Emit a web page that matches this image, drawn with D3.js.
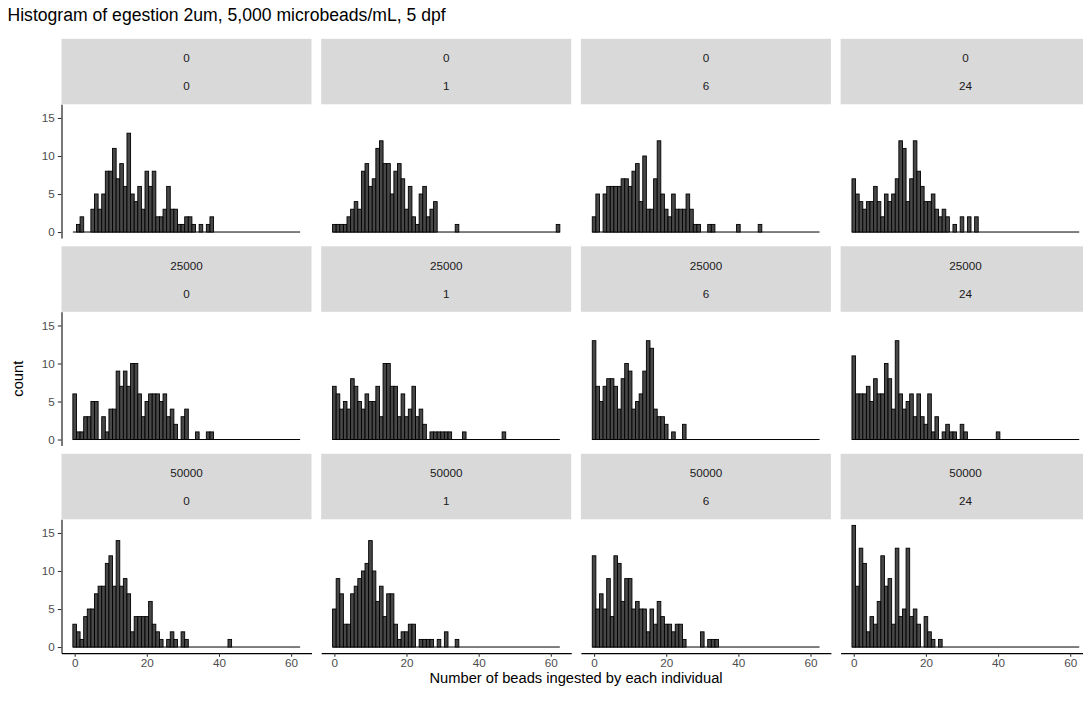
<!DOCTYPE html>
<html>
<head>
<meta charset="utf-8">
<script src="https://cdn.jsdelivr.net/npm/d3@7/dist/d3.min.js"></script>
<style>
  body { margin: 0; background: #fff; }
  text { font-family: "Liberation Sans", Arial, sans-serif; }
</style>
</head>
<body>
<svg id="chart" width="1083" height="708"></svg>
<script>
// facet levels
let concLevels = ["0", "25000", "50000"]
let hourLevels = ["0", "1", "6", "24"]

// counts per 1-bead bin, index = number of beads (missing bins are 0)
let c0h0 = [0,1,2,0,0,3,5,3,5,8,8,11,7,9,6,13,5,4,6,3,8,6,8,2,2,3,6,3,3,1,1,2,2,1,0,1,0,1,2]
let c0h1 = [1,1,1,1,2,3,4,3,8,9,6,7,11,12,9,9,5,8,9,7,3,6,2,1,5,6,2,3,4,0,0,0,0,0,1,0,0,0,0,0,
            0,0,0,0,0,0,0,0,0,0,0,0,0,0,0,0,0,0,0,0,0,0,1]
let c0h6 = [2,5,0,5,6,6,6,6,7,7,6,8,9,4,10,3,3,7,12,5,3,2,5,3,3,3,5,3,1,1,0,0,1,1,0,0,0,0,0,0,
            1,0,0,0,0,0,1]
let c0h24 = [7,5,4,3,4,4,6,4,2,5,4,5,7,12,11,4,7,12,8,6,4,4,5,3,2,3,2,0,1,0,2,0,2,0,2]
let c25h0 = [6,1,1,3,3,5,5,0,3,1,4,4,9,7,9,7,10,10,6,3,5,6,6,6,5,6,3,4,2,0,3,4,0,0,1,0,0,1,1]
let c25h1 = [7,6,4,5,4,8,7,5,4,6,5,5,7,3,10,10,7,7,3,6,3,4,7,3,4,2,0,1,1,1,1,1,1,0,0,0,1,0,0,0,
             0,0,0,0,0,0,0,1]
let c25h6 = [13,7,5,7,8,8,7,4,8,10,9,4,5,6,9,13,12,4,3,3,2,0,1,0,0,2]
let c25h24 = [11,6,6,6,7,5,8,6,6,10,8,4,13,6,4,5,6,3,6,3,2,6,1,3,0,1,2,1,1,0,2,1,0,0,0,0,0,0,0,0,1]
let c50h0 = [3,2,1,4,5,5,7,8,8,11,12,8,14,8,9,7,2,4,4,4,4,6,3,2,1,0,1,2,1,0,2,1,0,0,0,0,0,0,0,0,
             0,0,0,1]
let c50h1 = [5,9,7,3,3,7,8,9,10,11,14,10,6,8,4,7,7,3,1,2,2,3,3,0,1,1,1,1,0,1,0,2,0,0,1]
let c50h6 = [12,5,7,5,9,4,12,11,6,9,9,5,6,5,5,2,5,3,6,4,3,3,2,3,3,1,0,0,0,0,2,0,1,1,1]
let c50h24 = [16,8,13,11,2,4,3,6,12,8,9,3,13,4,5,13,4,5,3,0,4,2,1,0,1]

let counts = [
  [c0h0, c0h1, c0h6, c0h24],
  [c25h0, c25h1, c25h6, c25h24],
  [c50h0, c50h1, c50h6, c50h24]
]
let nBins = 63
let xTicks = [0, 20, 40, 60]
let yTicks = [0, 5, 10, 15]

let svg = d3.select("#chart")

// layout
let left = 61.5
let panelW = 250
let stepX = 259.7
let panelTop = 104.3
let panelH = 133.8
let stripH = 65.5
let stepY = 207.5

let x = d3.scaleLinear().domain([-3.65, 65.65]).range([0, panelW])
let y = d3.scaleLinear().domain([-0.8, 16.8]).range([panelH, 0])

svg.append("rect").attr("width", 1083).attr("height", 708).attr("fill", "#fff")

// title
svg.append("text")
  .attr("x", 7.5).attr("y", 21)
  .style("font-size", "17.6px").attr("fill", "#000")
  .text("Histogram of egestion 2um, 5,000 microbeads/mL, 5 dpf")

counts.forEach(function (rowData, r) {
  rowData.forEach(function (data, c) {
    let px = left + c * stepX
    let py = panelTop + r * stepY

    // strip
    let strip = svg.append("g").attr("transform", "translate(" + px + "," + (py - stripH) + ")")
    strip.append("rect")
      .attr("width", panelW).attr("height", stripH)
      .attr("fill", "#d9d9d9")
    strip.append("text")
      .attr("x", panelW / 2).attr("y", 19.3 + 4)
      .attr("text-anchor", "middle")
      .style("font-size", "11.7px").attr("fill", "#1a1a1a")
      .text(concLevels[r])
    strip.append("text")
      .attr("x", panelW / 2).attr("y", 47.7 + 4)
      .attr("text-anchor", "middle")
      .style("font-size", "11.7px").attr("fill", "#1a1a1a")
      .text(hourLevels[c])

    let g = svg.append("g").attr("transform", "translate(" + px + "," + py + ")")

    let bins = d3.range(nBins).map(function (k) {
      return { k: k, n: data[k] || 0 }
    })

    // zero-height bins show up as the baseline
    g.append("line")
      .attr("x1", x(-0.5)).attr("x2", x(nBins - 0.5))
      .attr("y1", y(0)).attr("y2", y(0))
      .attr("stroke", "#000").attr("stroke-width", 1)

    g.selectAll("rect.bar")
      .data(bins.filter(function (d) { return d.n > 0 }))
      .enter()
      .append("rect")
      .attr("class", "bar")
      .attr("x", function (d) { return x(d.k - 0.5) })
      .attr("width", function (d) { return x(d.k + 0.5) - x(d.k - 0.5) })
      .attr("y", function (d) { return y(d.n) })
      .attr("height", function (d) { return y(0) - y(d.n) })
      .attr("fill", "#474747")
      .attr("stroke", "#000")
      .attr("stroke-width", 0.9)

    if (c === 0) {
      let ay = g.append("g").call(
        d3.axisLeft(y).tickValues(yTicks).tickSize(3.7).tickSizeOuter(0).tickPadding(3)
      )
      ay.select(".domain").attr("stroke", "#000").attr("stroke-width", 1.07)
      ay.selectAll(".tick line").attr("stroke", "#333").attr("stroke-width", 1.07)
      ay.selectAll(".tick text")
        .attr("fill", "#4d4d4d")
        .style("font-size", "11.7px")
        .style("font-family", "'Liberation Sans', Arial, sans-serif")
    }

    if (r === counts.length - 1) {
      let ax = g.append("g")
        .attr("transform", "translate(0," + panelH + ")")
        .call(d3.axisBottom(x).tickValues(xTicks).tickSize(3.7).tickSizeOuter(0).tickPadding(2))
      ax.select(".domain").attr("stroke", "#000").attr("stroke-width", 1.07)
      ax.selectAll(".tick line").attr("stroke", "#333").attr("stroke-width", 1.07)
      ax.selectAll(".tick text")
        .attr("fill", "#4d4d4d")
        .style("font-size", "11.7px")
        .style("font-family", "'Liberation Sans', Arial, sans-serif")
    }
  })
})

// axis titles
let panelsRight = left + 3 * stepX + panelW
svg.append("text")
  .attr("x", (left + panelsRight) / 2).attr("y", 683)
  .attr("text-anchor", "middle")
  .style("font-size", "14.7px").attr("fill", "#000")
  .text("Number of beads ingested by each individual")

svg.append("text")
  .attr("transform", "translate(23," + (panelTop - stripH + (2 * stepY + panelH + stripH) / 2 + stripH / 2) + ") rotate(-90)")
  .attr("text-anchor", "middle")
  .style("font-size", "14.7px").attr("fill", "#000")
  .text("count")
</script>
</body>
</html>
